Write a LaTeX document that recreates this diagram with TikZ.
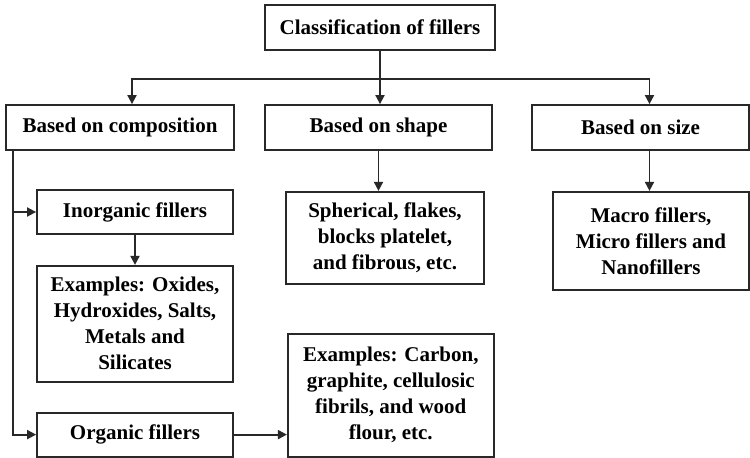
\documentclass[tikz,border=0pt]{standalone}
\usepackage{fontspec}
\setmainfont{Liberation Serif}
\usepackage{tikz}
\usetikzlibrary{arrows.meta,positioning,calc}
\definecolor{fLine}{RGB}{40,40,40}
\tikzset{
catbox/.style={rectangle,draw=fLine,line width=0.9pt,fill=white,align=center,inner sep=2pt,font=\bfseries\fontsize{10.5}{13}\selectfont},
link/.style={line width=0.9pt,draw=fLine},
arrow/.style={-{Triangle[length=4.5pt,width=4.5pt]},line width=0.9pt,draw=fLine}
}

\begin{document}
\begin{tikzpicture}[node distance=15pt and 20pt]
\useasboundingbox (0,0) rectangle (375pt,-228.5pt);
\node[catbox,minimum width=115pt,minimum height=22.5pt] (root) at (190pt,-13.75pt) {Classification of fillers};
\node[catbox,minimum width=114pt,minimum height=22.5pt] (comp) at (60pt,-63.75pt) {Based on composition};
\node[catbox,minimum width=113.5pt,minimum height=22.5pt] (shape) at (189.25pt,-63.75pt) {Based on shape};
\node[catbox,minimum width=108.5pt,minimum height=22.5pt] (size) at (320.25pt,-63.75pt) {Based on size};
\node[catbox,minimum width=98pt,minimum height=22pt] (inorg) at (67.5pt,-106pt) {Inorganic fillers};
\node[catbox,minimum width=98pt,minimum height=58pt,below=15pt of inorg] (inorgex) {Examples: Oxides,\\Hydroxides, Salts,\\Metals and\\Silicates};
\node[catbox,minimum width=98pt,minimum height=22pt,below=14.5pt of inorgex] (org) {Organic fillers};
\node[catbox,minimum width=99pt,minimum height=46pt,below=20pt of shape,xshift=3.25pt] (shapeex) {Spherical, flakes,\\blocks platelet,\\and fibrous, etc.};
\node[catbox,minimum width=98pt,minimum height=49pt,below=20pt of size,xshift=5.25pt] (sizeex) {Macro fillers,\\Micro fillers and\\Nanofillers};
\node[catbox,minimum width=103pt,minimum height=61.5pt,right=26.5pt of org.south east,anchor=south west] (carbon) {Examples: Carbon,\\graphite, cellulosic\\fibrils, and wood\\flour, etc.};
% top split
\coordinate[below=14pt of root.south] (split);
\draw[arrow] (root.south) -- (root.south |- shape.north);
\draw[arrow] (split) -| ([xshift=6pt]comp.north);
\draw[arrow] (split) -| ([xshift=4.5pt]size.north);
% composition branch
\coordinate (trunk) at ([xshift=4pt]comp.south west);
\draw[arrow] (trunk) |- (org.west);
\draw[arrow] (trunk |- inorg.west) -- (inorg.west);
\draw[arrow] (inorg.south) -- (inorgex.north);
\draw[arrow] (org.east) -- (org.east -| carbon.west);
% shape and size
\draw[arrow] (shape.south) -- (shape.south |- shapeex.north);
\draw[arrow] ([xshift=4.5pt]size.south) -- ([xshift=4.5pt]size.south |- sizeex.north);
\end{tikzpicture}
\end{document}
